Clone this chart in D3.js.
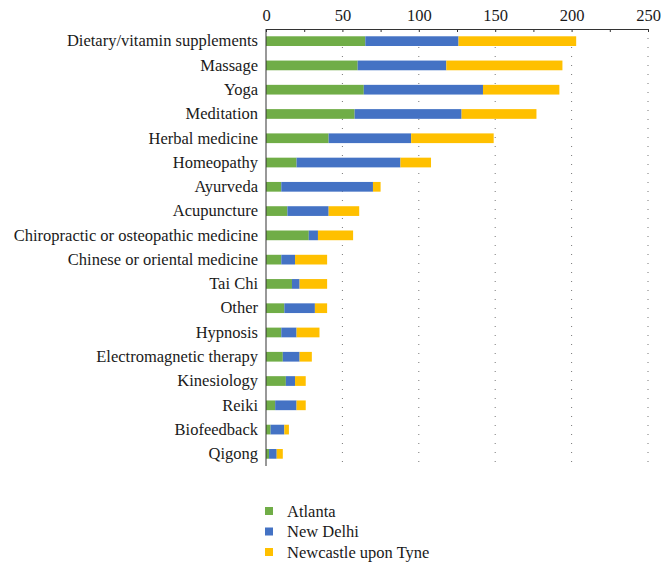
<!DOCTYPE html>
<html>
<head>
<meta charset="utf-8">
<script src="https://cdn.jsdelivr.net/npm/d3@7"></script>
<style>
  body { margin: 0; background: #fff; }
</style>
</head>
<body>
<div id="chart"></div>
<script>
var categories = ["Dietary/vitamin supplements", "Massage", "Yoga", "Meditation", "Herbal medicine",
  "Homeopathy", "Ayurveda", "Acupuncture", "Chiropractic or osteopathic medicine",
  "Chinese or oriental medicine", "Tai Chi", "Other", "Hypnosis", "Electromagnetic therapy",
  "Kinesiology", "Reiki", "Biofeedback", "Qigong"];
var atlanta   = [65, 60, 64, 58, 41, 20, 10, 14, 28, 10, 17, 12, 10, 11, 13, 6, 3, 2];
var newDelhi  = [61, 58, 78, 70, 54, 68, 60, 27, 6, 9, 5, 20, 10, 11, 6, 14, 9, 5];
var newcastle = [77, 76, 50, 49, 54, 20, 5, 20, 23, 21, 18, 8, 15, 8, 7, 6, 3, 4];
var seriesNames = ["Atlanta", "New Delhi", "Newcastle upon Tyne"];
var colors = ["#70ad47", "#4472c4", "#ffc000"];
var xTicks = [0, 50, 100, 150, 200, 250];

var FONT = "'Liberation Serif', 'DejaVu Serif', serif";
var svg_width = 668, svg_height = 571;
var svg = d3.select("#chart").append("svg")
  .attr("width", svg_width).attr("height", svg_height);

var x = d3.scaleLinear().domain([0, 250]).range([266, 648]);
var y = d3.scaleBand().domain(categories).range([29, 466]).paddingInner(0.6).paddingOuter(0.3);

var rows = categories.map(function(c, i) {
  return { cat: c, "Atlanta": atlanta[i], "New Delhi": newDelhi[i], "Newcastle upon Tyne": newcastle[i] };
});
var stacked = d3.stack().keys(seriesNames)(rows);

// dotted gridlines
svg.append("g").selectAll("line")
  .data(xTicks.slice(1))
  .enter().append("line")
  .attr("x1", function(d){ return x(d); })
  .attr("x2", function(d){ return x(d); })
  .attr("y1", 29).attr("y2", 466)
  .attr("stroke", "#777").attr("stroke-width", 1)
  .attr("stroke-dasharray", "1,8");

// bars
svg.append("g").selectAll("g")
  .data(stacked)
  .enter().append("g")
  .attr("fill", function(d, i){ return colors[i]; })
  .selectAll("rect")
  .data(function(d){ return d; })
  .enter().append("rect")
  .attr("x", function(d){ return x(d[0]); })
  .attr("width", function(d){ return x(d[1]) - x(d[0]); })
  .attr("y", function(d){ return y(d.data.cat); })
  .attr("height", y.bandwidth());

// top axis
var xAxis = d3.axisTop(x).tickValues(d3.range(0, 251, 25))
  .tickFormat(function(d){ return xTicks.indexOf(d) >= 0 ? d : ""; })
  .tickSizeInner(-3).tickSizeOuter(0).tickPadding(8);
var gx = svg.append("g").attr("transform", "translate(0,29)").call(xAxis);
gx.select(".domain").attr("stroke", "#333");
gx.selectAll(".tick line").attr("stroke", "#333");
gx.selectAll(".tick text").style("font-family", FONT).style("font-size", "16.5px").attr("fill", "#1a1a1a");

// left axis
var yAxis = d3.axisLeft(y).tickSize(0).tickPadding(8);
var gy = svg.append("g").attr("transform", "translate(266,0)").call(yAxis);
gy.select(".domain").attr("stroke", "#333").attr("d", "M0,29V466");
gy.selectAll(".tick text").style("font-family", FONT).style("font-size", "16.5px").attr("fill", "#1a1a1a");

// legend
var legend = svg.append("g").selectAll("g")
  .data(seriesNames)
  .enter().append("g")
  .attr("transform", function(d, i){ return "translate(265," + (507 + i * 20.5) + ")"; });
legend.append("rect").attr("width", 8).attr("height", 8)
  .attr("fill", function(d, i){ return colors[i]; });
legend.append("text").attr("x", 22).attr("y", 4).attr("dy", "0.35em")
  .style("font-family", FONT).style("font-size", "16.5px").attr("fill", "#1a1a1a")
  .text(function(d){ return d; });
</script>
</body>
</html>
